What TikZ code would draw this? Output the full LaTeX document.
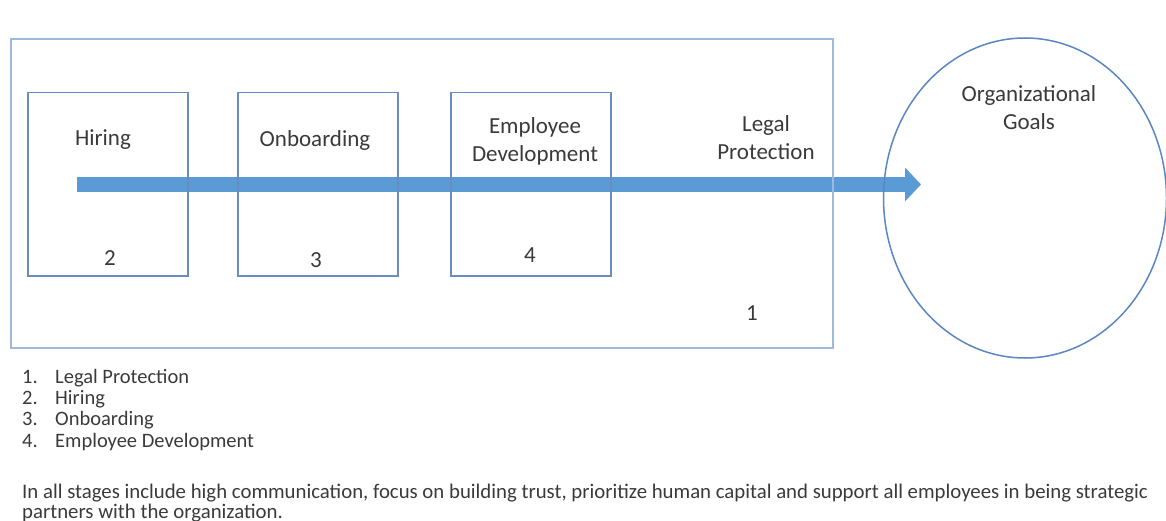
\documentclass[tikz,border=0pt]{standalone}
\usepackage{fontspec}
\setmainfont{Carlito}
\usepackage{tikz}
\usetikzlibrary{
	arrows.meta,
	positioning,
	shapes.geometric,
}
\definecolor{frameblue}{HTML}{9DB9DB}
\definecolor{boxblue}{HTML}{6A8CBE}
\definecolor{arrowblue}{HTML}{5B9BD5}
\definecolor{goalblue}{HTML}{5A86C2}
\definecolor{textgray}{HTML}{3A3A3A}
\tikzset{frame box/.style={draw=frameblue,line width=2pt,minimum width=822pt,minimum height=309pt,anchor=north west,inner sep=0pt,}}
\tikzset{stage box/.style={draw=boxblue,line width=1.5pt,minimum width=160pt,minimum height=183pt,anchor=north west,inner sep=0pt,}}
\tikzset{goal/.style={draw=goalblue,line width=1.5pt,ellipse,minimum width=283pt,minimum height=320pt,inner sep=0pt,}}
\tikzset{big text/.style={text=textgray,align=center,inner sep=0pt,font=\fontsize{23}{28}\selectfont,}}
\tikzset{small text/.style={text=textgray,anchor=base west,inner sep=0pt,font=\fontsize{20.5}{20}\selectfont,}}
\tikzset{note/.style={small text,font=\fontsize{20.8}{20}\selectfont,}}
\tikzset{flow/.style={draw=arrowblue,line width=15pt,-{Triangle[length=16pt,width=33pt]},}}

\begin{document}
\begin{tikzpicture}[x=1pt,y=-1pt]

\clip (0,0) rectangle (1166,521);

% arrow goes first, outlines are drawn over it
\coordinate (start) at (77,184.5);
\coordinate (tip) at (921,184.5);
\draw[flow] (start) -- (tip);

\node[frame box] (legal) at (10,38) {};

\foreach \n/\x in {hire/27,onboard/237,develop/450}{
	\node[stage box] (\n) at (\x,92) {};
}

\node[goal] (goals) at (1025,198) {};

\foreach \n/\x/\y/\txt in {hire/103/140/Hiring,onboard/315/140/Onboarding,develop/535/141/{Employee\\Development},legal/766/138/{Legal\\Protection},goals/1029/108/{Organizational\\Goals}}{
	\node[big text] (\n-label) at (\x,\y) {\txt};
}

\foreach \n/\x/\y/\num in {hire/110/258/2,onboard/316/260/3,develop/530/255/4,legal/752/313/1}{
	\node[big text] (\n-num) at (\x,\y) {\num};
}

% legend under the frame
\foreach \i/\y/\txt in {1/383/Legal Protection,2/404/Hiring,3/425/Onboarding,4/447/Employee Development}{
	\node[small text] (num\i) at (22,\y) {\i.};
	\node[small text] (item\i) at (55,\y) {\txt};
}

\node[note] (note1) at (22,498) {In all stages include high communication, focus on building trust, prioritize human capital and support all employees in being strategic};
\node[note] (note2) at (22,518) {partners with the organization.};

\end{tikzpicture}
\end{document}
